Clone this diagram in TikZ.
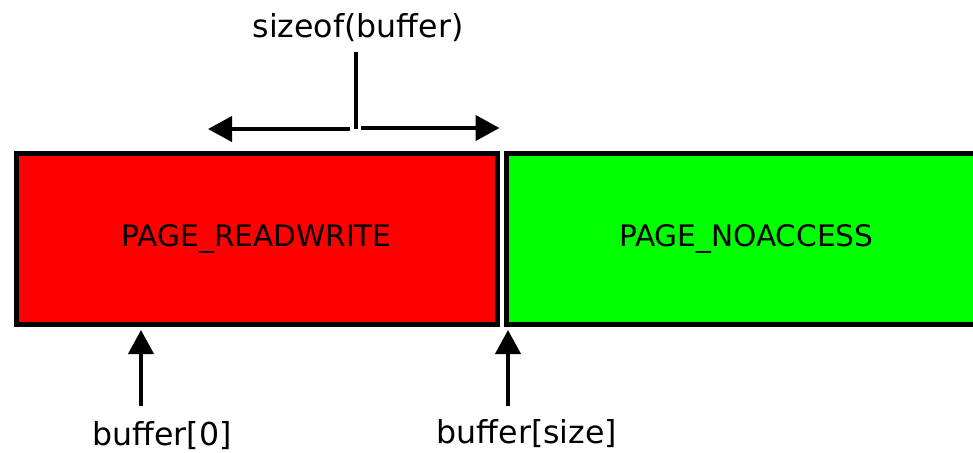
\documentclass[tikz,border=0pt]{standalone}
\usepackage{fontspec}
\setmainfont{DejaVu Sans}
\usetikzlibrary{arrows.meta,positioning}
\definecolor{rwred}{RGB}{255,0,0}
\definecolor{nagreen}{RGB}{0,255,0}
\tikzset{pagebox/.style={
    rectangle,minimum width=240.25pt,minimum height=85.25pt,
    line width=2.5pt,draw=black,inner sep=0pt,
    font=\fontsize{14.8}{18}\selectfont}}
\tikzset{ptrlabel/.style={anchor=base,inner sep=0pt,
    font=\fontsize{15.8}{19}\selectfont}}
\tikzset{pointer/.style={-{Triangle[length=12pt,width=12.5pt]}}}
\tikzset{every picture/.style={line width=2pt}}

\begin{document}
\begin{tikzpicture}[x=0.5pt,y=-0.5pt,node distance=2pt]
  \useasboundingbox (0,0) rectangle (973,452);
  \clip (0,0) rectangle (973,452);

  \node (readwrite) [pagebox,fill=rwred] at (256.75,238.75) {PAGE\_READWRITE};
  \node (noaccess)  [pagebox,fill=nagreen,right=of readwrite] {PAGE\_NOACCESS};

  \node (sizeof) [ptrlabel] at (358,37)  {sizeof(buffer)};
  \node (first)  [ptrlabel] at (162,445) {buffer[0]};
  \node (last)   [ptrlabel] at (527,443) {buffer[size]};

  \coordinate (tick)       at (355.5,52);
  \coordinate (split)      at (355.5,129);
  \coordinate (splitleft)  at (350,129);
  \coordinate (splitright) at (361,128);
  \coordinate (lowend)     at (208,129);
  \coordinate (firsttail)  at (141,406);
  \coordinate (lasttail)   at (508,406);

  % span of the buffer
  \draw (tick) -- (split);
  \draw [pointer] (splitleft) -- (lowend);
  \draw [pointer] (splitright) -- (splitright -| readwrite.east);

  % start and end pointers
  \draw [pointer] (firsttail) -- ([yshift=-1.75pt]firsttail |- readwrite.south);
  \draw [pointer] (lasttail) -- ([yshift=-1.75pt]lasttail |- readwrite.south);

\end{tikzpicture}
\end{document}
